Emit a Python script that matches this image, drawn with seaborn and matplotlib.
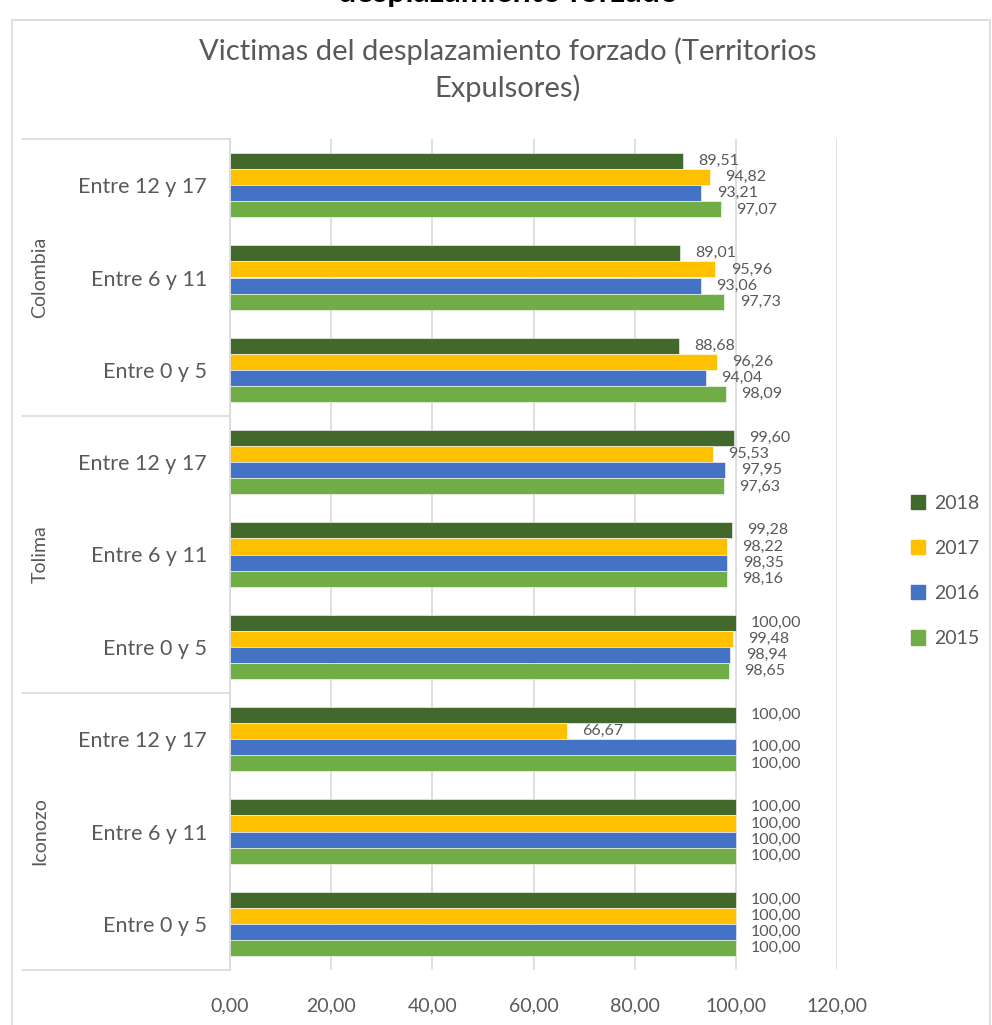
import numpy as np
import pandas as pd
import seaborn as sns
import matplotlib.pyplot as plt
from matplotlib.lines import Line2D
from matplotlib.patches import Rectangle

regions = ["Colombia", "Tolima", "Iconozo"]
ages = ["Entre 12 y 17", "Entre 6 y 11", "Entre 0 y 5"]
years = ["2018", "2017", "2016", "2015"]

# values per (region, age) row, columns in the order of `years`
v2018 = [89.51, 89.01, 88.68, 99.60, 99.28, 100.00, 100.00, 100.00, 100.00]
v2017 = [94.82, 95.96, 96.26, 95.53, 98.22, 99.48, 66.67, 100.00, 100.00]
v2016 = [93.21, 93.06, 94.04, 97.95, 98.35, 98.94, 100.00, 100.00, 100.00]
v2015 = [97.07, 97.73, 98.09, 97.63, 98.16, 98.65, 100.00, 100.00, 100.00]

colors = ["#43682b", "#ffc000", "#4472c4", "#70ad47"]
txt = "#595959"

cats = [f"{r}|{a}" for r in regions for a in ages]
rows = []
for y, vals in zip(years, [v2018, v2017, v2016, v2015]):
    for c, v in zip(cats, vals):
        rows.append({"cat": c, "year": y, "valor": v})
df = pd.DataFrame(rows)

sns.set_style("white")
plt.rcParams["font.family"] = ["Lato", "DejaVu Sans"]

W, H = 992, 1025
fig = plt.figure(figsize=(W / 100, H / 100), dpi=100)
ax = fig.add_axes([230 / W, 1 - 970 / H, (837 - 230) / W, (970 - 139) / H])

sns.barplot(data=df, y="cat", x="valor", hue="year", order=cats, hue_order=years,
            palette=colors, saturation=1, orient="h", width=0.7, gap=0, ax=ax,
            edgecolor="white", linewidth=0.4, legend=False, errorbar=None)

for cont in ax.containers:
    ax.bar_label(cont, labels=[f"{b.get_width():.2f}".replace(".", ",") for b in cont],
                 padding=11, fontsize=11.5, color=txt)

ax.set_xlim(0, 120)
ax.set_xticks(np.arange(0, 121, 20))
ax.set_xticklabels([f"{t:.2f}".replace(".", ",") for t in np.arange(0, 121, 20)],
                   fontsize=14, color=txt)
ax.tick_params(axis="x", pad=20, length=0)
ax.set_yticks(range(len(cats)))
ax.set_yticklabels([c.split("|")[1] for c in cats], fontsize=15.5, color=txt)
ax.tick_params(axis="y", pad=16.5, length=0)
ax.set_xlabel("")
ax.set_ylabel("")
ax.grid(axis="x", color="#d9d9d9", linewidth=1.2)
ax.set_axisbelow(True)
for s in ["top", "right", "bottom"]:
    ax.spines[s].set_visible(False)
ax.spines["left"].set_color("#d9d9d9")
ax.spines["left"].set_linewidth(1.2)

# region separators and labels
step = (970 - 139) / 3
fig.add_artist(Line2D([22 / W, 230 / W], [1 - 139 / H, 1 - 139 / H],
                      color="#d9d9d9", linewidth=1.2))
for i, r in enumerate(regions):
    ybot = 139 + (i + 1) * step
    fig.add_artist(Line2D([22 / W, 230 / W], [1 - ybot / H, 1 - ybot / H],
                          color="#d9d9d9", linewidth=1.2))
    ymid = 139 + (i + 0.5) * step
    fig.text(40 / W, 1 - ymid / H, r, rotation=90, ha="center", va="center",
             fontsize=14, color=txt)

# legend
handles = [Rectangle((0, 0), 1, 1, color=c) for c in colors]
fig.legend(handles, years, loc="center left", bbox_to_anchor=(893 / W, 1 - 571 / H),
           frameon=False, fontsize=14, labelcolor=txt, handlelength=0.75,
           handleheight=0.75, handletextpad=0.45, labelspacing=1.45)

# titles and chart border
fig.text(508 / W, 1 - 2 / H, "desplazamiento forzado", ha="center", va="baseline",
         fontsize=23, fontweight="bold", color="black")
fig.add_artist(Rectangle((12 / W, -0.01), (990 - 12) / W, 1 - 20 / H + 0.01,
                         fill=False, edgecolor="#d9d9d9", linewidth=1.2))
fig.text(508 / W, 1 - 70 / H, "Victimas del desplazamiento forzado (Territorios\nExpulsores)",
         ha="center", va="center", fontsize=21, color=txt, linespacing=1.4)

fig.savefig("out.png", dpi=100, facecolor="white")
